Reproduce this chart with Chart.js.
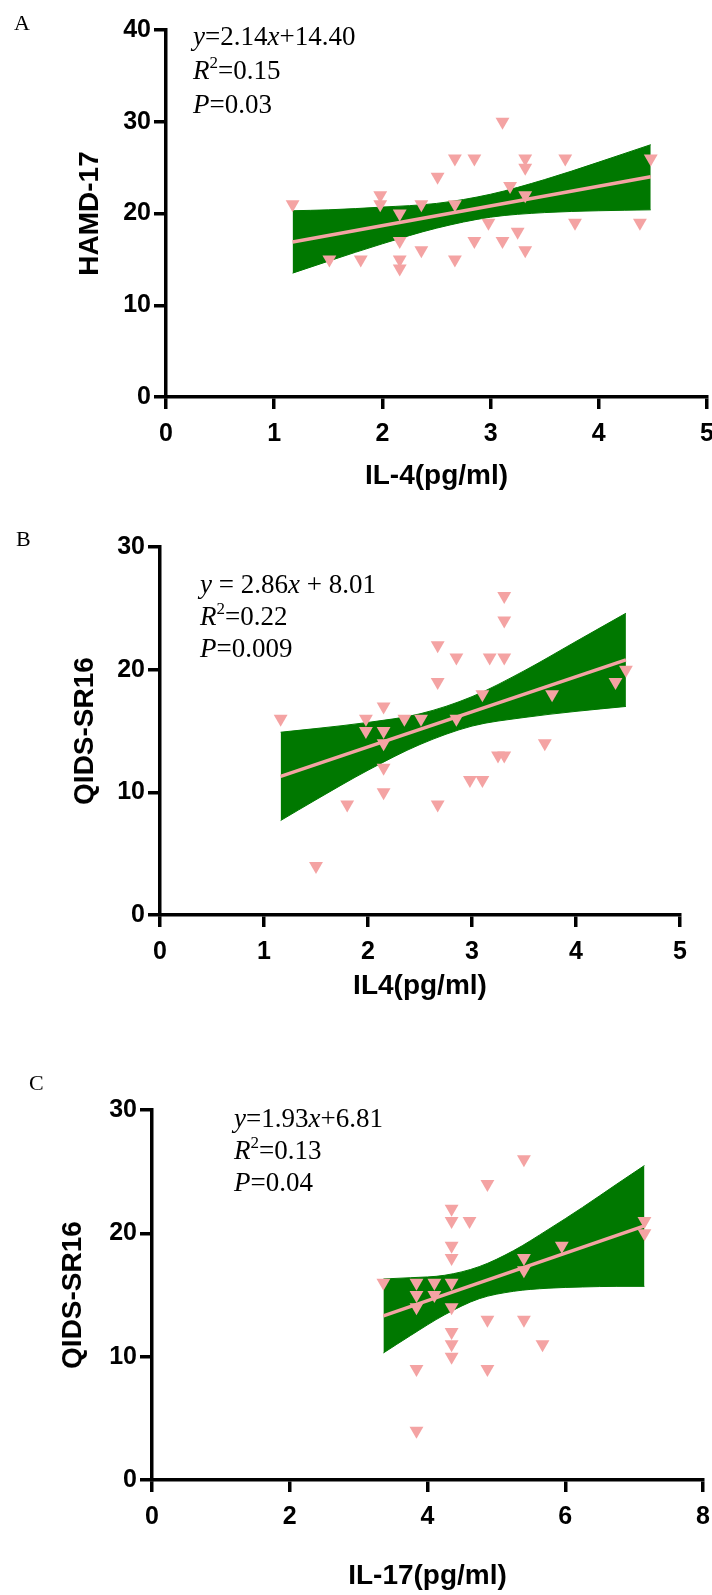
<!DOCTYPE html>
<html>
<head>
<meta charset="utf-8">
<script src="https://cdn.jsdelivr.net/npm/chart.js@4.4.0/dist/chart.umd.min.js"></script>
<style>
  html, body { margin: 0; padding: 0; background: #fff; }
  body { position: relative; width: 712px; height: 1595px; overflow: hidden; }
  canvas { position: absolute; left: 0; }
</style>
</head>
<body>
<canvas id="cA" width="760" height="500" style="top:0px"></canvas>
<canvas id="cB" width="760" height="510" style="top:500px"></canvas>
<canvas id="cC" width="760" height="585" style="top:1010px"></canvas>
<script>
// ---------- Panel A : IL-4 vs HAMD-17 ----------
const aX = [1.17,1.51,1.80,1.98,1.98,2.16,2.16,2.16,2.16,2.36,2.36,2.51,2.67,2.67,2.67,2.85,2.85,2.98,3.11,3.11,3.18,3.25,3.32,3.32,3.32,3.32,3.69,3.78,4.38,4.48];
const aY = [21,15,15,22,21,20,17,15,14,21,16,24,26,21,15,26,17,19,30,17,23,18,26,25,22,16,26,19,19,26];
const aFitX = [1.17, 4.48];
const aFitY = [16.9, 24.0];
const aBandX = [1.17,1.5,2.0,2.5,3.0,3.5,4.0,4.48];
const aBandUpper = [20.3,20.4,20.7,21.1,22.1,23.7,25.6,27.5];
const aBandLower = [13.5,14.8,16.7,18.4,19.6,20.1,20.3,20.4];
const aXTicks = [0,1,2,3,4,5];
const aYTicks = [0,10,20,30,40];

// ---------- Panel B : IL4 vs QIDS-SR16 ----------
const bX = [1.16,1.50,1.80,1.98,1.98,2.15,2.15,2.15,2.15,2.15,2.35,2.51,2.67,2.67,2.67,2.85,2.85,2.98,3.10,3.10,3.17,3.25,3.31,3.31,3.31,3.31,3.70,3.77,4.38,4.48];
const bY = [16,4,9,16,15,17,15,14,12,10,16,16,22,19,9,21,16,11,11,18,21,13,13,26,24,21,14,18,19,20];
const bFitX = [1.16, 4.48];
const bFitY = [11.3, 20.8];
const bBandX = [1.16,1.5,2.0,2.5,3.0,3.5,4.0,4.48];
const bBandUpper = [14.9,15.2,15.7,16.4,17.8,19.9,22.3,24.6];
const bBandLower = [7.7,9.4,11.8,13.9,15.4,16.1,16.6,17.0];
const bXTicks = [0,1,2,3,4,5];
const bYTicks = [0,10,20,30];

// ---------- Panel C : IL-17 vs QIDS-SR16 ----------
const cX = [3.36,3.84,3.84,3.84,3.84,3.84,4.10,4.10,4.35,4.35,4.35,4.35,4.35,4.35,4.35,4.35,4.35,4.61,4.87,4.87,4.87,5.40,5.40,5.40,5.40,5.67,5.95,7.15,7.15];
const cY = [16,16,15,14,9,4,16,15,22,21,19,18,16,14,12,11,10,21,24,13,9,26,18,17,13,11,19,21,20];
const cFitX = [3.36, 7.15];
const cFitY = [13.3, 20.6];
const cBandX = [3.36,3.75,4.25,4.75,5.25,5.75,6.25,6.75,7.15];
const cBandUpper = [16.3,16.4,16.6,17.3,18.6,20.3,22.1,24.0,25.5];
const cBandLower = [10.3,11.7,13.4,14.7,15.3,15.55,15.65,15.7,15.7];
const cXTicks = [0,2,4,6,8];
const cYTicks = [0,10,20,30];

// ---------- text ----------
const titles = {
  A: { letter: 'A', xTitle: 'IL-4(pg/ml)', yTitle: 'HAMD-17',
       eq: [{t:'y',i:1},{t:'=2.14'},{t:'x',i:1},{t:'+14.40'}], r2: '=0.15', p: '=0.03' },
  B: { letter: 'B', xTitle: 'IL4(pg/ml)', yTitle: 'QIDS-SR16',
       eq: [{t:'y',i:1},{t:' = 2.86'},{t:'x',i:1},{t:' + 8.01'}], r2: '=0.22', p: '=0.009' },
  C: { letter: 'C', xTitle: 'IL-17(pg/ml)', yTitle: 'QIDS-SR16',
       eq: [{t:'y',i:1},{t:'=1.93'},{t:'x',i:1},{t:'+6.81'}], r2: '=0.13', p: '=0.04' }
};

const PINK = '#F4A3A3';
const GREEN = '#007800';
const SERIF = '"Liberation Serif", "Times New Roman", serif';
const SANS = '"Liberation Sans", Arial, Helvetica, sans-serif';

const zip = (xs, ys) => xs.map((x, i) => ({ x: x, y: ys[i] }));

const annotPlugin = {
  id: 'annot',
  afterDraw(chart, args, o) {
    const ctx = chart.ctx;
    ctx.save();
    ctx.fillStyle = '#000';
    ctx.textBaseline = 'alphabetic';
    ctx.textAlign = 'left';
    ctx.font = '22px ' + SERIF;
    ctx.fillText(o.letter, o.letterX, o.letterY);
    const size = o.size;
    const lines = [
      o.eq,
      [{t:'R',i:1},{t:'2',sup:1},{t:o.r2}],
      [{t:'P',i:1},{t:o.p}]
    ];
    lines.forEach((segs, li) => {
      let x = o.x;
      const y = o.y + li * o.gap;
      segs.forEach(s => {
        const fs = s.sup ? Math.round(size * 0.62) : size;
        ctx.font = (s.i ? 'italic ' : '') + fs + 'px ' + SERIF;
        ctx.fillText(s.t, x, s.sup ? y - size * 0.4 : y);
        x += ctx.measureText(s.t).width;
      });
    });
    ctx.restore();
  }
};

function makeChart(id, p) {
  const t = p.text;
  return new Chart(document.getElementById(id), {
    type: 'line',
    data: {
      datasets: [
        { label: 'points', data: zip(p.x, p.y), showLine: false, order: 0,
          pointStyle: 'triangle', rotation: 180, pointRadius: 8,
          pointBackgroundColor: PINK, pointBorderWidth: 0, pointHoverRadius: 8 },
        { label: 'fit', data: zip(p.fitX, p.fitY), order: 1,
          borderColor: PINK, borderWidth: 3.5, pointRadius: 0, fill: false },
        { label: 'upper', data: zip(p.bandX, p.up), order: 2,
          borderColor: GREEN, borderWidth: 1, pointRadius: 0,
          cubicInterpolationMode: 'monotone', backgroundColor: GREEN, fill: '+1' },
        { label: 'lower', data: zip(p.bandX, p.lo), order: 3,
          borderColor: GREEN, borderWidth: 1, pointRadius: 0,
          cubicInterpolationMode: 'monotone', fill: false }
      ]
    },
    options: {
      responsive: false,
      animation: false,
      devicePixelRatio: 1,
      layout: { padding: { left: 0, right: p.padRight, top: p.padTop, bottom: p.padBottom } },
      plugins: {
        legend: { display: false },
        tooltip: { enabled: false },
        annot: { letter: t.letter, letterX: p.letterX, letterY: p.letterY,
                 eq: t.eq, r2: t.r2, p: t.p, x: p.annX, y: p.annY, gap: p.annGap, size: 27 }
      },
      scales: {
        x: {
          type: 'linear', position: 'bottom', min: p.xTicks[0], max: p.xTicks[p.xTicks.length - 1],
          afterBuildTicks: (s) => { s.ticks = p.xTicks.map(v => ({ value: v })); },
          afterFit: (s) => { s.height = p.xH; },
          grid: { display: true, drawOnChartArea: false, drawTicks: true, tickLength: 12, lineWidth: 3.5, color: '#000' },
          border: { display: true, color: '#000', width: 3.5 },
          ticks: { color: '#000', padding: 10, font: { family: SANS, size: 25, weight: 'bold' } },
          title: { display: true, text: t.xTitle, color: '#000',
                   font: { family: SANS, size: 28, weight: 'bold' }, padding: { top: 0, bottom: p.xTitlePad } }
        },
        y: {
          type: 'linear', position: 'left', min: p.yTicks[0], max: p.yTicks[p.yTicks.length - 1],
          afterBuildTicks: (s) => { s.ticks = p.yTicks.map(v => ({ value: v })); },
          afterFit: (s) => { s.width = p.yW; },
          grid: { display: true, drawOnChartArea: false, drawTicks: true, tickLength: 12, lineWidth: 3.5, color: '#000' },
          border: { display: true, color: '#000', width: 3.5 },
          ticks: { color: '#000', padding: 3, font: { family: SANS, size: 25, weight: 'bold' } },
          title: { display: true, text: t.yTitle, color: '#000',
                   font: { family: SANS, size: 28, weight: 'bold' }, padding: { top: p.yTitlePad, bottom: 0 } }
        }
      }
    },
    plugins: [annotPlugin]
  });
}

makeChart('cA', {
  x: aX, y: aY, fitX: aFitX, fitY: aFitY, bandX: aBandX, up: aBandUpper, lo: aBandLower,
  xTicks: aXTicks, yTicks: aYTicks, text: titles.A,
  padTop: 30, padBottom: 0, padRight: 53, yW: 166, xH: 103, xTitlePad: 7, yTitlePad: 73,
  letterX: 14, letterY: 30, annX: 193, annY: 45, annGap: 34
});
makeChart('cB', {
  x: bX, y: bY, fitX: bFitX, fitY: bFitY, bandX: bBandX, up: bBandUpper, lo: bBandLower,
  xTicks: bXTicks, yTicks: bYTicks, text: titles.B,
  padTop: 47, padBottom: 0, padRight: 80, yW: 160, xH: 95, xTitlePad: 7, yTitlePad: 68,
  letterX: 16, letterY: 46, annX: 200, annY: 93, annGap: 32
});
makeChart('cC', {
  x: cX, y: cY, fitX: cFitX, fitY: cFitY, bandX: cBandX, up: cBandUpper, lo: cBandLower,
  xTicks: cXTicks, yTicks: cYTicks, text: titles.C,
  padTop: 100, padBottom: 0, padRight: 57, yW: 152, xH: 115, xTitlePad: 2, yTitlePad: 56,
  letterX: 29, letterY: 80, annX: 234, annY: 117, annGap: 32
});
</script>
</body>
</html>
